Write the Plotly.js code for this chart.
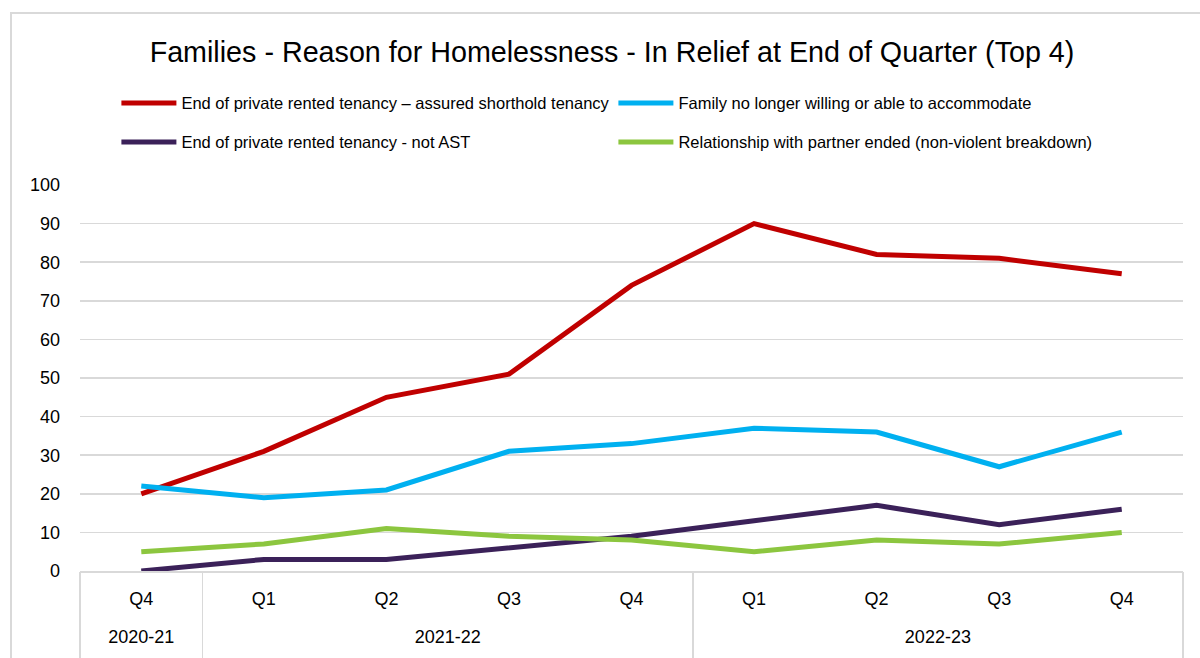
<!DOCTYPE html>
<html>
<head>
<meta charset="utf-8">
<script src="https://cdn.plot.ly/plotly-3.0.1.min.js"></script>
<style>
  html, body { margin: 0; padding: 0; background: #fff; }
  #wrap { position: relative; width: 1200px; height: 658px; overflow: hidden; }
  #chart { width: 1200px; height: 658px; }
  #frame { position: absolute; left: 10px; top: 12px; width: 1200px; height: 700px;
           border: 2px solid #d9d9d9; box-sizing: border-box; pointer-events: none; }
</style>
</head>
<body>
<div id="wrap">
  <div id="chart"></div>
  <div id="frame"></div>
</div>
<script>
const years = ["2020-21", "2021-22", "2021-22", "2021-22", "2021-22", "2022-23", "2022-23", "2022-23", "2022-23"];
const quarters = ["Q4", "Q1", "Q2", "Q3", "Q4", "Q1", "Q2", "Q3", "Q4"];

const endAST = [20, 31, 45, 51, 74, 90, 82, 81, 77];
const familyNoLonger = [22, 19, 21, 31, 33, 37, 36, 27, 36];
const endNotAST = [0, 3, 3, 6, 9, 13, 17, 12, 16];
const relationshipEnded = [5, 7, 11, 9, 8, 5, 8, 7, 10];

const names = [
  "End of private rented tenancy \u2013 assured shorthold tenancy",
  "Family no longer willing or able to accommodate",
  "End of private rented tenancy - not AST",
  "Relationship with partner ended (non-violent breakdown)"
];
const yTicks = [0, 10, 20, 30, 40, 50, 60, 70, 80, 90, 100];

// category positions derived from the arrays above
const idx = quarters.map((_, i) => i);
const groups = [];
years.forEach((yr, i) => {
  const g = groups[groups.length - 1];
  if (g && g.name === yr) g.end = i; else groups.push({ name: yr, start: i, end: i });
});
const groupCenters = groups.map(g => (g.start + g.end) / 2);
const groupNames = groups.map(g => g.name);
const boundaries = [groups[0].start - 0.5].concat(groups.map(g => g.end + 0.5));
const xRange = [-0.5, quarters.length - 0.5];

function tr(y, name, color, legend) {
  return {
    type: "scatter", mode: "lines", x: idx, y: y, name: name,
    line: { color: color, width: 5 }, legend: legend,
    xaxis: "x", yaxis: "y"
  };
}
const data = [
  tr(endAST, names[0], "#C00000", "legend"),
  tr(familyNoLonger, names[1], "#00B0F0", "legend"),
  tr(endNotAST, names[2], "#3B2159", "legend2"),
  tr(relationshipEnded, names[3], "#8CC63F", "legend2"),
  // empty helper trace so the year-group axis is drawn
  { type: "scatter", mode: "lines", x: [], y: [], xaxis: "x2", yaxis: "y",
    showlegend: false, hoverinfo: "skip" }
];

const FONT = "Liberation Sans, Arial, sans-serif";
const legFont = { family: FONT, size: 16.5, color: "#000" };
const legBase = {
  orientation: "h", x: 0.033, xanchor: "left", yanchor: "middle",
  entrywidth: 427, entrywidthmode: "pixels", itemwidth: 55,
  font: legFont, bgcolor: "rgba(0,0,0,0)", traceorder: "normal"
};
const layout = {
  width: 1200, height: 658,
  margin: { l: 80, r: 17, t: 185, b: 87 },
  paper_bgcolor: "#fff", plot_bgcolor: "#fff",
  font: { family: FONT, color: "#000" },
  title: {
    text: "Families - Reason for Homelessness - In Relief at End of Quarter (Top 4)",
    font: { size: 28.7, color: "#000", family: FONT },
    x: 0.51, xanchor: "center", y: 0.921, yanchor: "middle"
  },
  showlegend: true,
  legend: Object.assign({}, legBase, { y: 1.212 }),
  legend2: Object.assign({}, legBase, { y: 1.111 }),
  xaxis: {
    type: "linear", range: xRange, tickmode: "array", tickvals: idx, ticktext: quarters,
    showline: true, linecolor: "#d9d9d9", linewidth: 1.5,
    ticks: "", tickfont: { size: 18, color: "#000" }, ticklabelstandoff: 11,
    showgrid: false, zeroline: false, fixedrange: true
  },
  xaxis2: {
    type: "linear", overlaying: "x", anchor: "y", side: "bottom", range: xRange,
    tickmode: "array", tickvals: groupCenters, ticktext: groupNames,
    ticks: "", tickfont: { size: 18, color: "#000" }, ticklabelstandoff: 53,
    minor: { tickmode: "array", tickvals: boundaries, ticks: "outside", ticklen: 90,
             tickwidth: 1.5, tickcolor: "#d9d9d9", showgrid: false },
    showline: false, showgrid: false, zeroline: false, fixedrange: true
  },
  yaxis: {
    range: [0, 100], tickmode: "array", tickvals: yTicks, ticktext: yTicks.map(String),
    showgrid: true, gridcolor: "#d9d9d9", gridwidth: 1.5,
    zeroline: false, showline: false, ticks: "",
    tickfont: { size: 18, color: "#000" }, ticklabelstandoff: 19, fixedrange: true
  }
};
Plotly.newPlot("chart", data, layout, { displayModeBar: false, staticPlot: true });
</script>
</body>
</html>
